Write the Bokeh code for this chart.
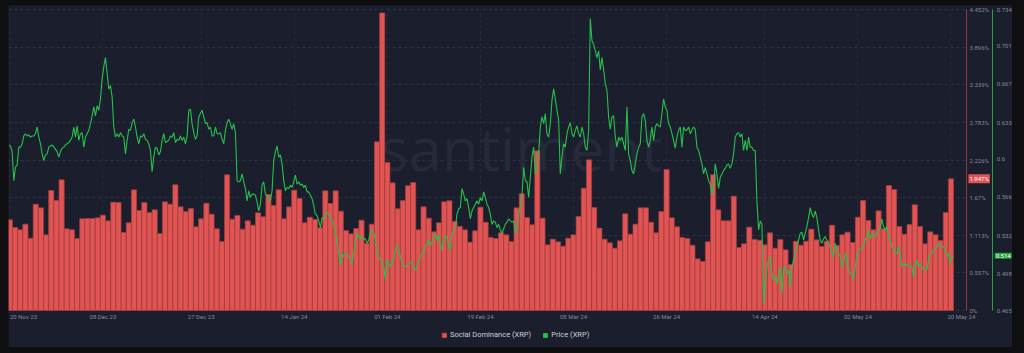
import pandas as pd
from bokeh.plotting import figure
from bokeh.models import Range1d, LinearAxis, FixedTicker, Legend, LegendItem, Label, ColumnDataSource
from bokeh.layouts import column
from bokeh.embed import file_html
from bokeh.resources import INLINE

# ---------------- data ----------------
date_labels = ["20 Nov 23", "08 Dec 23", "27 Dec 23", "14 Jan 24", "01 Feb 24", "19 Feb 24",
               "08 Mar 24", "26 Mar 24", "14 Apr 24", "02 May 24", "20 May 24"]
dom_tick_labels = ["0%", "0.557%", "1.113%", "1.67%", "2.226%", "2.783%", "3.339%", "3.896%", "4.452%"]
price_tick_labels = ["0.465", "0.498", "0.532", "0.566", "0.6", "0.633", "0.667", "0.701", "0.734"]
series_names = ["Social Dominance (XRP)", "Price (XRP)"]

# daily social dominance (%), 20 Nov 23 .. 20 May 24
dominance = [
    1.341, 1.228, 1.193, 1.277, 1.070, 1.573, 1.518, 1.119, 1.775, 1.627,
    1.933, 1.208, 1.193, 1.065, 1.356, 1.361, 1.361, 1.371, 1.410, 1.326,
    1.602, 1.597, 1.154, 1.297, 1.785, 1.479, 1.597, 1.449, 1.489, 1.139,
    1.607, 1.573,
    1.859, 1.533, 1.464, 1.509, 1.237, 1.356, 1.587, 1.425, 1.208, 1.021,
    2.007, 1.351, 1.405, 1.203, 1.326, 1.262, 1.444, 1.385, 1.716, 1.553,
    1.785, 1.356, 1.533, 1.780, 1.656, 1.297, 1.380, 1.346, 1.223, 1.770,
    1.583,
    1.770, 1.469, 1.183, 1.134, 1.213, 1.336, 0.991, 1.277, 2.495, 4.402,
    2.189, 1.888, 1.504, 1.627, 1.844, 1.893, 1.193, 1.533, 1.366, 1.163,
    1.297, 1.607, 1.622, 1.316, 1.242, 1.193, 1.011, 1.178, 1.528, 1.306,
    1.080,
    1.065, 1.149, 1.119, 1.021, 1.518, 1.726, 1.375, 1.267, 2.361, 1.366,
    0.971, 1.055, 1.016, 0.951, 1.070, 1.119, 1.390, 1.809, 2.228, 1.523,
    1.218, 1.055, 1.001, 0.922, 1.030, 1.430, 1.129, 1.277, 1.518, 1.518,
    1.306,
    1.149, 1.464, 2.085, 1.371, 1.237, 1.080, 1.065, 0.966, 0.764, 0.725,
    1.016, 2.007, 1.489, 1.326, 1.326, 1.691, 0.932, 0.986, 1.233, 1.050,
    1.040, 0.971, 1.149, 0.922, 1.050, 0.897, 0.680, 1.025, 0.966, 1.025,
    1.203, 1.045, 0.947, 1.025, 1.262, 0.961, 1.119, 1.159, 1.006, 1.380,
    1.627, 1.331, 1.193, 1.474, 1.208, 1.849, 1.790, 1.242, 1.129, 1.272,
    1.563, 1.242, 0.986, 1.163, 1.119, 1.035, 1.449, 1.947,
]

# XRP price (USD), sampled about every 7h44m
price = [
    0.613, 0.612, 0.607, 0.581, 0.593, 0.595, 0.611, 0.611, 0.614, 0.621,
    0.623, 0.621, 0.622, 0.620, 0.621, 0.621, 0.623, 0.629, 0.620, 0.614,
    0.605, 0.599, 0.604, 0.605, 0.611, 0.612, 0.613, 0.611, 0.609, 0.607,
    0.602, 0.607, 0.610, 0.611, 0.613, 0.614, 0.615, 0.617, 0.620, 0.629,
    0.620, 0.630, 0.617, 0.623, 0.624, 0.611, 0.620, 0.623, 0.626, 0.632,
    0.639, 0.647, 0.639, 0.648, 0.644, 0.654, 0.672, 0.683, 0.691, 0.677,
    0.663, 0.666, 0.656, 0.629, 0.620, 0.623, 0.620, 0.624, 0.621, 0.620,
    0.605, 0.617, 0.627, 0.626, 0.633, 0.636, 0.629, 0.620, 0.614, 0.621,
    0.620, 0.623, 0.618, 0.617, 0.614, 0.608, 0.589, 0.602, 0.611, 0.610,
    0.604, 0.607, 0.617, 0.623,
    0.615, 0.616, 0.617, 0.621, 0.620, 0.624, 0.615, 0.618, 0.617, 0.621,
    0.617, 0.620, 0.614, 0.621, 0.644, 0.645, 0.632, 0.624, 0.618, 0.621,
    0.638, 0.641, 0.644, 0.638, 0.632, 0.633, 0.627, 0.629, 0.621, 0.621,
    0.629, 0.623, 0.623, 0.624, 0.618, 0.614, 0.626, 0.633, 0.636, 0.632,
    0.627, 0.632, 0.624, 0.581, 0.580, 0.581, 0.587, 0.580, 0.574, 0.563,
    0.572, 0.566, 0.569, 0.569, 0.568, 0.562, 0.554, 0.560, 0.577, 0.580,
    0.569, 0.568, 0.565, 0.563, 0.572, 0.599, 0.607, 0.612, 0.602, 0.604,
    0.596, 0.581, 0.572, 0.575, 0.574, 0.577, 0.575, 0.580, 0.586, 0.578,
    0.580, 0.577, 0.578, 0.575, 0.577, 0.571, 0.571, 0.568, 0.565, 0.559,
    0.551, 0.550, 0.545, 0.539, 0.548, 0.547,
    0.551, 0.553, 0.551, 0.548, 0.545, 0.542, 0.534, 0.529, 0.516, 0.505,
    0.516, 0.513, 0.516, 0.516, 0.513, 0.510, 0.507, 0.516, 0.525, 0.534,
    0.531, 0.529, 0.532, 0.529, 0.529, 0.525, 0.528, 0.534, 0.537, 0.534,
    0.528, 0.516, 0.513, 0.510, 0.508, 0.504, 0.493, 0.510, 0.507, 0.504,
    0.507, 0.510, 0.519, 0.523, 0.519, 0.513, 0.507, 0.505, 0.504, 0.505,
    0.507, 0.508, 0.507, 0.504, 0.501, 0.504, 0.508, 0.513, 0.516, 0.516,
    0.522, 0.525, 0.528, 0.523, 0.526, 0.529, 0.534, 0.528, 0.532, 0.525,
    0.519, 0.528, 0.532, 0.531, 0.522, 0.519, 0.534, 0.537, 0.540, 0.551,
    0.556, 0.557, 0.574, 0.569, 0.563, 0.565, 0.557, 0.547, 0.554, 0.557,
    0.560, 0.563, 0.560, 0.566, 0.563, 0.571,
    0.566, 0.560, 0.557, 0.551, 0.542, 0.545, 0.544, 0.539, 0.542, 0.537,
    0.534, 0.538, 0.542, 0.544, 0.547, 0.545, 0.544, 0.545, 0.534, 0.537,
    0.551, 0.557, 0.568, 0.593, 0.581, 0.580, 0.566, 0.584, 0.602, 0.611,
    0.587, 0.590, 0.605, 0.629, 0.638, 0.632, 0.641, 0.623, 0.620, 0.632,
    0.653, 0.663, 0.654, 0.644, 0.635, 0.587, 0.602, 0.614, 0.611, 0.623,
    0.629, 0.633, 0.623, 0.620, 0.626, 0.630, 0.623, 0.620, 0.629, 0.623,
    0.611, 0.608, 0.626, 0.726, 0.706, 0.703, 0.697, 0.691, 0.697, 0.680,
    0.691, 0.680, 0.668, 0.662, 0.638, 0.627, 0.638, 0.639, 0.620, 0.611,
    0.620, 0.617, 0.620, 0.614, 0.608, 0.647, 0.605, 0.599, 0.590, 0.587,
    0.596, 0.605, 0.611, 0.614, 0.638, 0.641,
    0.635, 0.617, 0.611, 0.617, 0.629, 0.617, 0.629, 0.632, 0.630, 0.629,
    0.641, 0.654, 0.647, 0.644, 0.632, 0.629, 0.623, 0.617, 0.610, 0.620,
    0.626, 0.629, 0.611, 0.629, 0.626, 0.626, 0.629, 0.623, 0.626, 0.629,
    0.627, 0.611, 0.608, 0.602, 0.596, 0.587, 0.593, 0.587, 0.581, 0.578,
    0.569, 0.575, 0.596, 0.587, 0.574, 0.584, 0.587, 0.590, 0.592, 0.595,
    0.596, 0.592, 0.596, 0.605, 0.620, 0.623, 0.624, 0.620, 0.623, 0.608,
    0.617, 0.608, 0.620, 0.611, 0.611, 0.608, 0.608, 0.563, 0.537, 0.545,
    0.542, 0.471, 0.489, 0.504, 0.510, 0.513, 0.498, 0.492, 0.495, 0.489,
    0.498, 0.504, 0.480, 0.501, 0.504, 0.498, 0.501, 0.486, 0.504, 0.510,
    0.516, 0.522, 0.528,
    0.534, 0.535, 0.528, 0.534, 0.540, 0.548, 0.557, 0.551, 0.548, 0.554,
    0.548, 0.537, 0.528, 0.525, 0.529, 0.531, 0.528, 0.525, 0.522, 0.517,
    0.513, 0.525, 0.520, 0.516, 0.514, 0.504, 0.507, 0.516, 0.513, 0.501,
    0.498, 0.498, 0.492, 0.504, 0.513, 0.519, 0.520, 0.520, 0.523, 0.528,
    0.531, 0.537, 0.529, 0.534, 0.532, 0.531, 0.534, 0.537, 0.538, 0.547,
    0.540, 0.537, 0.540, 0.531, 0.528, 0.522, 0.519, 0.517, 0.516, 0.522,
    0.516, 0.504, 0.507, 0.505, 0.507, 0.504, 0.505, 0.504, 0.495, 0.504,
    0.510, 0.504, 0.507, 0.504, 0.501, 0.502, 0.501, 0.510, 0.516, 0.516,
    0.519, 0.520, 0.522, 0.525, 0.523, 0.522, 0.522, 0.520, 0.513, 0.516,
    0.507, 0.512, 0.514,
]

# ---------------- styling ----------------
PANEL = "#1b1e2c"
OUTER = "#0f0f11"
RED = "#e05454"
RED_EDGE = "#a53e3e"
RED_AXIS = "#8e3a3a"
GREEN = "#27c04b"
GREEN_AXIS = "#26a244"
TEXT = "#858a97"
FONT = "Roboto"

W, H = 1004, 342          # figure (whole frame) size
PLOT_H, PAD_TOP, PAD_BOTTOM = 301, 4, 37


def ms(ts):
    return ts.value / 1e6


def day(d):
    return ms(start + pd.Timedelta(days=d))


start = pd.Timestamp("2023-11-20")
bar_dates = pd.date_range(start, periods=len(dominance), freq="D")
price_times = pd.date_range(start - pd.Timedelta(minutes=300), periods=len(price), freq="464min")

date_ticks = [ms(pd.to_datetime(s, format="%d %b %y")) for s in date_labels]
dom_ticks = [float(s.rstrip("%")) for s in dom_tick_labels]
price_ticks = [float(s) for s in price_tick_labels]


def padded_range(lo, hi):
    k = PLOT_H / (hi - lo)
    return Range1d(lo - PAD_BOTTOM / k, hi + PAD_TOP / k)


x_lo, x_plot_end, x_hi = day(-0.271), day(185.0), day(193.9)

fig = figure(width=W, height=H, x_axis_type="datetime", y_axis_location="right",
             x_range=Range1d(x_lo, x_hi),
             y_range=padded_range(dom_ticks[0], dom_ticks[-1]),
             output_backend="svg", toolbar_location=None,
             background_fill_color=PANEL, border_fill_color=PANEL,
             min_border=0, min_border_left=0, min_border_top=0, min_border_right=0,
             min_border_bottom=0, margin=(5, 12, 6, 8))
fig.outline_line_color = None
fig.extra_y_ranges = {"price": padded_range(price_ticks[0], price_ticks[-1])}

# watermark
wm = Label(x=day(98.9), y=2.40, text="santiment",
           text_align="center", text_baseline="alphabetic", text_font="Open Sans",
           text_font_size="60px", text_color="#252a3b", level="underlay")
fig.add_layout(wm)

src = ColumnDataSource(dict(x=bar_dates, top=dominance))
bars = fig.vbar(x="x", top="top", width=86400000, source=src,
                fill_color=RED, line_color=RED_EDGE, line_width=0.7)
price_src = ColumnDataSource(dict(t=price_times, p=price))
price_line = fig.line(x="t", y="p", source=price_src, y_range_name="price",
                      line_color=GREEN, line_width=1.1)
# zero-height key glyph (only used to draw a square swatch in the legend)
key_src = ColumnDataSource(dict(x=list(price_times[-1:]), top=price[-1:]))
price_key = fig.vbar(x="x", top="top", bottom="top", width=1, source=key_src,
                     y_range_name="price", fill_color=GREEN, line_color=None)

# axes (fixed inside the canvas-wide frame)
dom_ticker = FixedTicker(ticks=dom_ticks)
ax_dom = fig.yaxis[0]
ax_dom.ticker = dom_ticker
ax_dom.major_label_overrides = dict(zip(dom_ticks, dom_tick_labels))
ax_dom.axis_line_color = RED_AXIS
ax_dom.major_label_standoff = 3
ax_dom.fixed_location = x_plot_end
ax_dom.bounds = (dom_ticks[0], dom_ticks[-1])

ax_price = LinearAxis(y_range_name="price", ticker=FixedTicker(ticks=price_ticks),
                      major_label_overrides=dict(zip(price_ticks, price_tick_labels)))
fig.add_layout(ax_price, "right")
ax_price.axis_line_color = GREEN_AXIS
ax_price.major_label_standoff = 4
ax_price.fixed_location = day(190.08)
ax_price.bounds = (price_ticks[0], price_ticks[-1])

date_ticker = FixedTicker(ticks=date_ticks)
xa = fig.xaxis[0]
xa.ticker = date_ticker
x_over = {t: s for t, s in zip(date_ticks, date_labels)}
x_over[date_ticks[0]] = "\u00a0" + date_labels[0]
x_over[date_ticks[-1]] = "\u00a0" * 14 + date_labels[-1]
xa.major_label_overrides = x_over
xa.axis_line_color = None
xa.major_label_standoff = 2
xa.fixed_location = dom_ticks[0]

for ax in (ax_dom, ax_price, xa):
    ax.major_tick_line_color = None
    ax.minor_tick_line_color = None
    ax.major_tick_out = 0
    ax.major_tick_in = 0
    ax.minor_tick_out = 0
    ax.minor_tick_in = 0
    ax.major_label_text_font = FONT
    ax.major_label_text_font_size = "6px"
    ax.major_label_text_color = TEXT

ygrid = fig.ygrid[0]
ygrid.ticker = dom_ticker
ygrid.bounds = (dom_ticks[0], dom_ticks[-1])
ygrid.cross_bounds = (x_lo, x_plot_end)
xgrid = fig.xgrid[0]
xgrid.ticker = date_ticker
xgrid.cross_bounds = (dom_ticks[0], dom_ticks[-1])
for g in (xgrid, ygrid):
    g.grid_line_dash = "3 3"
    g.grid_line_width = 1
ygrid.grid_line_color = "#2d3143"
xgrid.grid_line_color = "#272b3c"

# current-value badges
dom_badge = Label(x=day(187.45), y=dominance[-1], text=f"{dominance[-1]:.3f}%",
                  text_align="center", text_baseline="middle", text_font=FONT,
                  text_font_size="6px", text_color="white",
                  background_fill_color=RED, padding=1)
price_badge = Label(x=day(192.1), y=price[-1], y_range_name="price",
                    text=f"{price[-1]:.3f}", text_align="center", text_baseline="middle",
                    text_font=FONT, text_font_size="6px", text_color="white",
                    background_fill_color="#22a640", padding=1)
fig.add_layout(dom_badge)
fig.add_layout(price_badge)

legend = Legend(items=[LegendItem(label=series_names[0], renderers=[bars]),
                       LegendItem(label=series_names[1], renderers=[price_key])],
                orientation="horizontal", location=(433, 8), padding=0, margin=0,
                spacing=11, glyph_width=6, glyph_height=6, label_standoff=3, label_height=6,
                label_text_font=FONT, label_text_font_size="7.5px",
                label_text_color="#cdd0d8", background_fill_alpha=0, border_line_alpha=0)
fig.add_layout(legend, "center")

p = column(fig, styles={"background-color": OUTER})

open("out.html", "w").write(file_html(p, INLINE))
